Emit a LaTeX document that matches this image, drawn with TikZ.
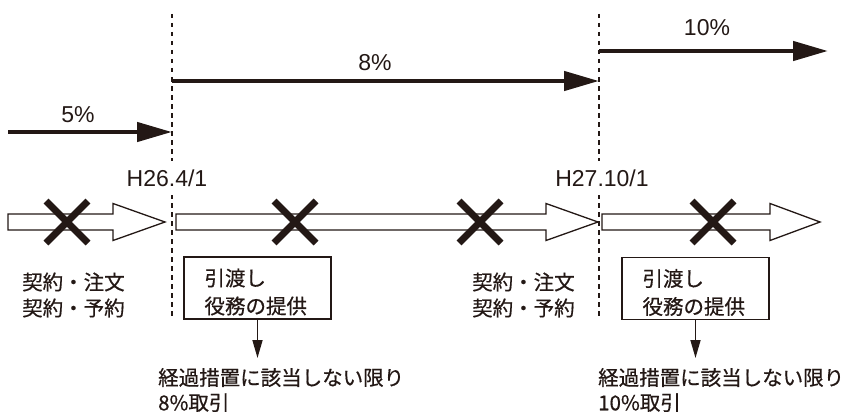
\documentclass[tikz,border=0pt]{standalone}
\usepackage{fontspec}
\setmainfont{Liberation Sans}
\newfontfamily\jpfont[FakeBold=0.6]{Noto Sans CJK JP}
\usepackage{xcolor}
\usepackage{tikz}
\usetikzlibrary{positioning}
\usetikzlibrary{arrows.meta}
\definecolor{ink}{HTML}{231815}
\tikzset{
    rate/.style={draw=ink, line width=4.5pt, -{Triangle[length=35pt,width=19pt]}},
    border/.style={draw=ink, line width=2.4pt, dash pattern=on 4.5pt off 4.5pt},
    flow/.style={draw=ink, fill=white, line width=1.3pt, line join=miter},
    cross/.style={draw=ink, line width=7pt},
    pct/.style={font=\fontsize{23}{27}\selectfont, text=ink, inner sep=0pt},
    date/.style={pct, fill=white, inner xsep=1pt, inner ysep=9pt},
    jp/.style={font=\jpfont\fontsize{20.5}{26}\selectfont, text=ink, inner sep=0pt, align=left},
    deliver/.style={draw=ink, line width=1.4pt, minimum width=147pt, minimum height=62pt, inner sep=0pt},
    toresult/.style={draw=ink, line width=1.6pt, -{Triangle[length=18pt,width=10pt]}}
}

\begin{document}
\begin{tikzpicture}[x=1pt, y=-1pt]

\useasboundingbox (0,0) rectangle (846,412);

% dates
\coordinate (b1top) at (172,14);
\coordinate (b1bot) at (172,317);
\coordinate (b2top) at (599,14);
\coordinate (b2bot) at (599,317);
\draw [border] (b1top) -- (b1bot);
\draw [border] (b2top) -- (b2bot);
\node [date] (d1) at (167,178) {H26.4/1};
\node [date] (d2) at (602,178) {H27.10/1};

% tax rates
\coordinate (r5s)  at (8,132);
\coordinate (r8s)  at (172,81);
\coordinate (r10s) at (599,51);
\coordinate (r10e) at (828,51);
\draw [rate] (r5s) -- (r5s -| b1top);
\draw [rate] (r8s) -- (r8s -| b2top);
\draw [rate] (r10s) -- (r10e);
\node [pct] (p5)  at (78,115) {5\%};
\node [pct] (p8)  at (375,63) {8\%};
\node [pct] (p10) at (707,28) {10\%};

% time line
\draw [flow] (8,214) -- (113,214) -- (113,203.5) -- (165,222) -- (113,240.5) -- (113,230) -- (8,230) -- cycle;
\draw [flow] (176,214) -- (546,214) -- (546,203.5) -- (598,222) -- (546,240.5) -- (546,230) -- (176,230) -- cycle;
\draw [flow] (602,214) -- (770,214) -- (770,203.5) -- (820,222) -- (770,240.5) -- (770,230) -- (602,230) -- cycle;
\foreach \cx in {67,295,480,713}
    \draw [cross] ({\cx-21},201) -- ({\cx+21},243) ({\cx-21},243) -- ({\cx+21},201);

% events
\node [jp, anchor=west] (order1) at (22,295)  {契約・注文\\契約・予約};
\node [jp, anchor=west] (order2) at (472,295) {契約・注文\\契約・予約};
\node [deliver] (box1) at (257.5,288) {};
\node [deliver] (box2) at (695.5,288.5) {};
\node [jp, font=\jpfont\fontsize{20.5}{28}\selectfont, right=21pt of box1.west, yshift=-4pt] (hand1) {引渡し\\役務の提供};
\node [jp, font=\jpfont\fontsize{20.5}{28}\selectfont, right=21pt of box2.west, yshift=-4pt] (hand2) {引渡し\\役務の提供};

\coordinate (tip1) at (257.5,358);
\coordinate (tip2) at (695.5,358);
\draw [toresult] (box1.south) -- (tip1);
\draw [toresult] (box2.south) -- (tip2);
\node [jp, font=\jpfont\fontsize{20.5}{25}\selectfont, anchor=west] (res1) at (158,390) {経過措置に該当しない限り\\8\%取引};
\node [jp, font=\jpfont\fontsize{20.5}{25}\selectfont, anchor=west] (res2) at (598,390) {経過措置に該当しない限り\\10\%取引};

\end{tikzpicture}
\end{document}
